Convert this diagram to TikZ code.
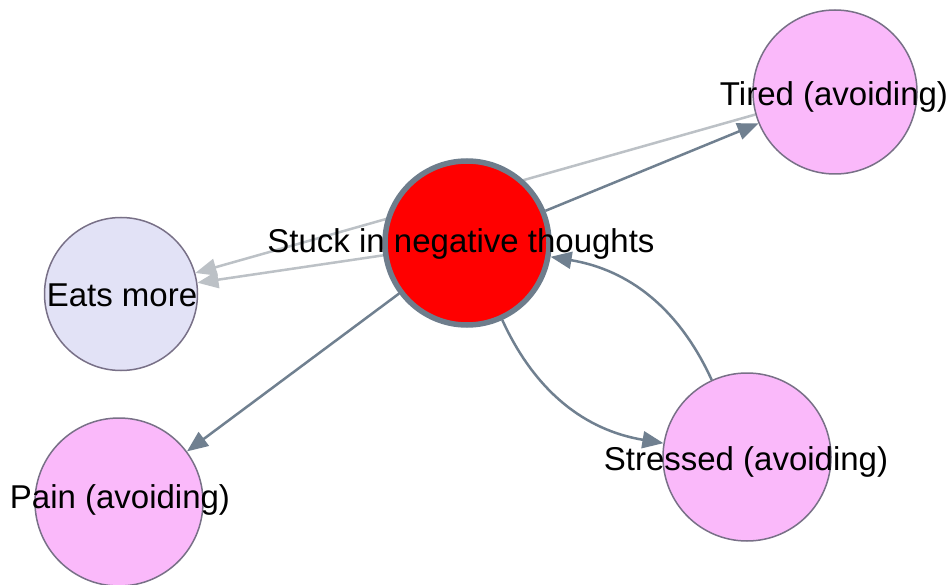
\documentclass[tikz,border=0pt]{standalone}
\usepackage{fontspec}
\setmainfont{Liberation Sans}
\usetikzlibrary{arrows.meta,backgrounds}

\definecolor{edgedark}{RGB}{112,128,144}
\definecolor{edgelight}{RGB}{188,193,198}
\definecolor{nodepink}{RGB}{250,185,250}
\definecolor{nodelav}{RGB}{226,226,246}
\definecolor{rimgray}{RGB}{120,112,135}
\definecolor{hubrim}{RGB}{110,125,140}

\begin{document}
\begin{tikzpicture}[x=1pt,y=1pt,
  vertex/.style={circle, inner sep=0pt, draw=rimgray, line width=1.5pt},
  hub/.style={circle, inner sep=0pt, fill=red, draw=hubrim, line width=5.5pt, minimum size=164pt},
  tag/.style={anchor=base, inner sep=0pt, font=\fontsize{33}{39}\selectfont, text=black},
  link/.style={line width=2.5pt, draw=edgedark, -{Triangle[length=21pt,width=17pt]}},
  faint/.style={link, draw=edgelight},
]
\useasboundingbox (0,0) rectangle (947,-585);

% circles
\node[hub] (stuck) at (467,-243) {};
\node[vertex, fill=nodepink, minimum size=164pt] (tired) at (835,-92) {};
\node[vertex, fill=nodelav, minimum size=153pt] (eats) at (121,-294) {};
\node[vertex, fill=nodepink, minimum size=168pt] (pain) at (119,-502) {};
\node[vertex, fill=nodepink, minimum size=168pt] (stressed) at (747,-457) {};

% connectors, kept underneath the circles
\begin{scope}[on background layer]
  \fill[white] (0,0) rectangle (947,-585);
  \draw[faint] (tired) -- (eats);
  \draw[faint] (stuck) -- (eats);
  \draw[link] (stuck) -- (tired);
  \draw[link] (stuck) -- (pain);
  \draw[link] (stuck) to[bend right=28] (stressed);
  \draw[link] (stressed) to[bend right=28] (stuck);
\end{scope}

% labels on top
\node[tag] (stucklabel) at (461,-253) {Stuck in negative thoughts};
\node[tag] (tiredlabel) at (834,-106) {Tired (avoiding)};
\node[tag] (eatslabel) at (122,-306) {Eats more};
\node[tag] (painlabel) at (120,-508) {Pain (avoiding)};
\node[tag] (stressedlabel) at (746,-470) {Stressed (avoiding)};
\end{tikzpicture}
\end{document}
